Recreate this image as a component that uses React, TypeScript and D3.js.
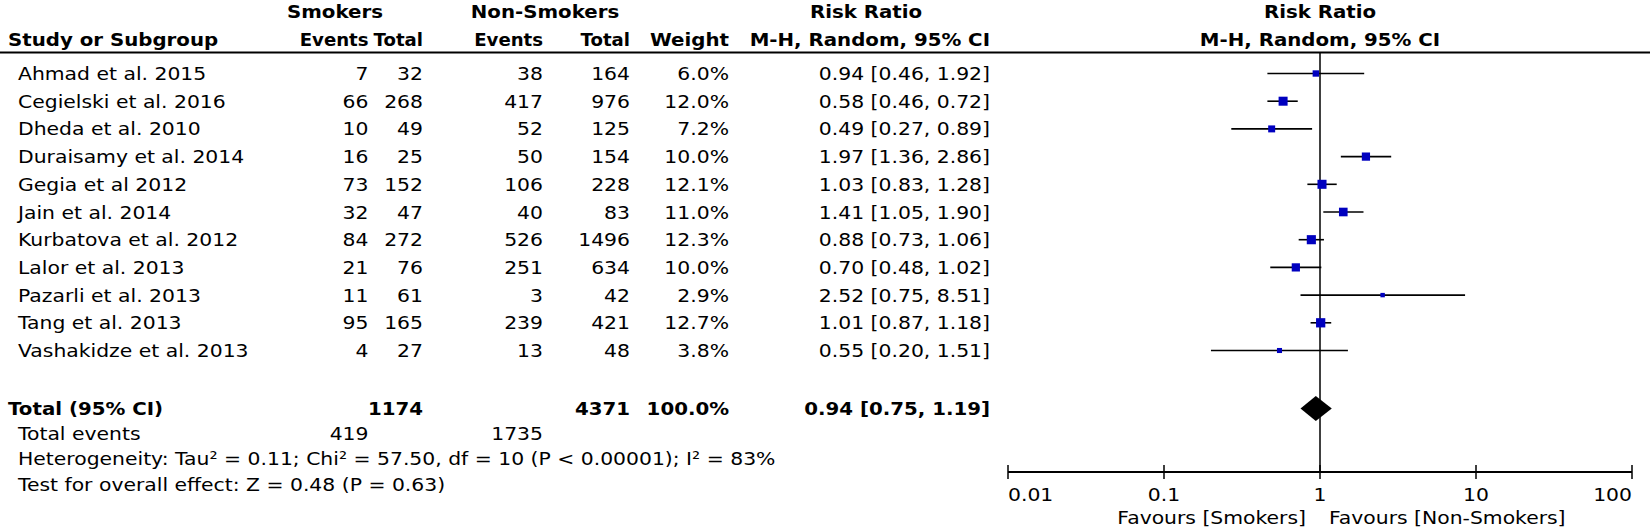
import React from "react";
import * as d3 from "d3";

const width = 1650;
const height = 529;

const studies = [
    "Ahmad et al. 2015", "Cegielski et al. 2016", "Dheda et al. 2010", "Duraisamy et al. 2014",
    "Gegia et al 2012", "Jain et al. 2014", "Kurbatova et al. 2012", "Lalor et al. 2013",
    "Pazarli et al. 2013", "Tang et al. 2013", "Vashakidze et al. 2013"
];
const smokersEvents = [7, 66, 10, 16, 73, 32, 84, 21, 11, 95, 4];
const smokersTotal = [32, 268, 49, 25, 152, 47, 272, 76, 61, 165, 27];
const nonEvents = [38, 417, 52, 50, 106, 40, 526, 251, 3, 239, 13];
const nonTotal = [164, 976, 125, 154, 228, 83, 1496, 634, 42, 421, 48];
const weights = [6.0, 12.0, 7.2, 10.0, 12.1, 11.0, 12.3, 10.0, 2.9, 12.7, 3.8];
const rr = [0.94, 0.58, 0.49, 1.97, 1.03, 1.41, 0.88, 0.70, 2.52, 1.01, 0.55];
const rrLow = [0.46, 0.46, 0.27, 1.36, 0.83, 1.05, 0.73, 0.48, 0.75, 0.87, 0.20];
const rrHigh = [1.92, 0.72, 0.89, 2.86, 1.28, 1.90, 1.06, 1.02, 8.51, 1.18, 1.51];

const totalSmokers = 1174;
const totalNon = 4371;
const totalEventsSmokers = 419;
const totalEventsNon = 1735;
const pooled = [0.94, 0.75, 1.19];
const axisTicks = [0.01, 0.1, 1, 10, 100];

const font = "'DejaVu Sans', sans-serif";
const fs = 18.5;
// the original's glyphs run wider than DejaVu's, bold a bit less so
const sxRegular = 1.1;
const sxBold = 1.07;
const sxNarrow = 0.98; // column headers sit tight together

const x = d3.scaleLog().domain([0.01, 100]).range([1008, 1632]);
const rowY = d3.scaleLinear().domain([0, 10]).range([80, 357]);

// right edges of the number columns
const col = { smEv: 368.5, smTot: 423, nEv: 543, nTot: 630, w: 729, rr: 990 };

const fmt2 = d3.format(".2f");
const fmt1 = d3.format(".1f");

const T = ({ x, y, bold, anchor, sx, children }: any) => (
    <text
        transform={`translate(${x},${y}) scale(${sx ?? (bold ? sxBold : sxRegular)},1)`}
        fontFamily={font}
        fontSize={fs}
        fontWeight={bold ? "bold" : "normal"}
        textAnchor={anchor || "start"}
        fill="#000"
    >
        {children}
    </text>
);

export default function App() {
    const axisY = 472;
    const totalY = 415;
    const headerLine = 52.5;
    return (
        <svg width={width} height={height} style={{ position: "absolute", left: 0, top: 0, background: "#fff" }}>
            {/* headers */}
            <T x={335} y={18} anchor="middle" bold>Smokers</T>
            <T x={545} y={18} anchor="middle" bold>Non-Smokers</T>
            <T x={866} y={18} anchor="middle" bold>Risk Ratio</T>
            <T x={x(1)} y={18} anchor="middle" bold>Risk Ratio</T>
            <T x={8} y={46} bold>Study or Subgroup</T>
            <T x={col.smEv} y={46} anchor="end" bold sx={sxNarrow}>Events</T>
            <T x={col.smTot} y={46} anchor="end" bold sx={sxNarrow}>Total</T>
            <T x={col.nEv} y={46} anchor="end" bold sx={sxNarrow}>Events</T>
            <T x={col.nTot} y={46} anchor="end" bold sx={sxNarrow}>Total</T>
            <T x={col.w} y={46} anchor="end" bold>Weight</T>
            <T x={col.rr} y={46} anchor="end" bold>M-H, Random, 95% CI</T>
            <T x={x(1)} y={46} anchor="middle" bold>M-H, Random, 95% CI</T>
            <line x1={0} x2={width} y1={headerLine} y2={headerLine} stroke="#000" strokeWidth={2} />

            {/* study rows */}
            {studies.map((s, i) => (
                <g key={s}>
                    <T x={18} y={rowY(i)}>{s}</T>
                    <T x={col.smEv} y={rowY(i)} anchor="end">{smokersEvents[i]}</T>
                    <T x={col.smTot} y={rowY(i)} anchor="end">{smokersTotal[i]}</T>
                    <T x={col.nEv} y={rowY(i)} anchor="end">{nonEvents[i]}</T>
                    <T x={col.nTot} y={rowY(i)} anchor="end">{nonTotal[i]}</T>
                    <T x={col.w} y={rowY(i)} anchor="end">{fmt1(weights[i])}%</T>
                    <T x={col.rr} y={rowY(i)} anchor="end">{`${fmt2(rr[i])} [${fmt2(rrLow[i])}, ${fmt2(rrHigh[i])}]`}</T>
                </g>
            ))}

            {/* forest marks */}
            <line x1={x(1)} x2={x(1)} y1={headerLine} y2={axisY} stroke="#000" strokeWidth={1.5} />
            {studies.map((s, i) => {
                const cy = rowY(i) - 6.5;
                const side = 2.6 * Math.sqrt(weights[i]);
                return (
                    <g key={"m" + s}>
                        <line x1={x(rrLow[i])} x2={x(rrHigh[i])} y1={cy} y2={cy} stroke="#000" strokeWidth={1.6} />
                        <rect x={x(rr[i]) - side / 2} y={cy - side / 2} width={side} height={side} fill="#0000bf" />
                    </g>
                );
            })}

            {/* totals */}
            <T x={8} y={totalY} bold>Total (95% CI)</T>
            <T x={col.smTot} y={totalY} anchor="end" bold>{totalSmokers}</T>
            <T x={col.nTot} y={totalY} anchor="end" bold>{totalNon}</T>
            <T x={col.w} y={totalY} anchor="end" bold>100.0%</T>
            <T x={col.rr} y={totalY} anchor="end" bold>{`${fmt2(pooled[0])} [${fmt2(pooled[1])}, ${fmt2(pooled[2])}]`}</T>
            <path
                d={`M${x(pooled[1])},${totalY - 6.5} L${x(pooled[0])},${totalY - 19} L${x(pooled[2])},${totalY - 6.5} L${x(pooled[0])},${totalY + 6} Z`}
                fill="#000"
            />

            <T x={18} y={440}>Total events</T>
            <T x={col.smEv} y={440} anchor="end">{totalEventsSmokers}</T>
            <T x={col.nEv} y={440} anchor="end">{totalEventsNon}</T>
            <T x={18} y={465}>Heterogeneity: Tau² = 0.11; Chi² = 57.50, df = 10 (P &lt; 0.00001); I² = 83%</T>
            <T x={18} y={491}>Test for overall effect: Z = 0.48 (P = 0.63)</T>

            {/* axis */}
            <line x1={x(0.01)} x2={x(100)} y1={axisY} y2={axisY} stroke="#000" strokeWidth={2} />
            {axisTicks.map((t, i) => (
                <g key={t}>
                    <line x1={x(t)} x2={x(t)} y1={axisY - 7} y2={axisY + 7} stroke="#000" strokeWidth={1.5} />
                    <T x={x(t)} y={501} anchor={i === 0 ? "start" : i === axisTicks.length - 1 ? "end" : "middle"}>{String(t)}</T>
                </g>
            ))}
            <T x={x(1) - 14} y={524} anchor="end">Favours [Smokers]</T>
            <T x={x(1) + 9} y={524}>Favours [Non-Smokers]</T>
        </svg>
    );
}
